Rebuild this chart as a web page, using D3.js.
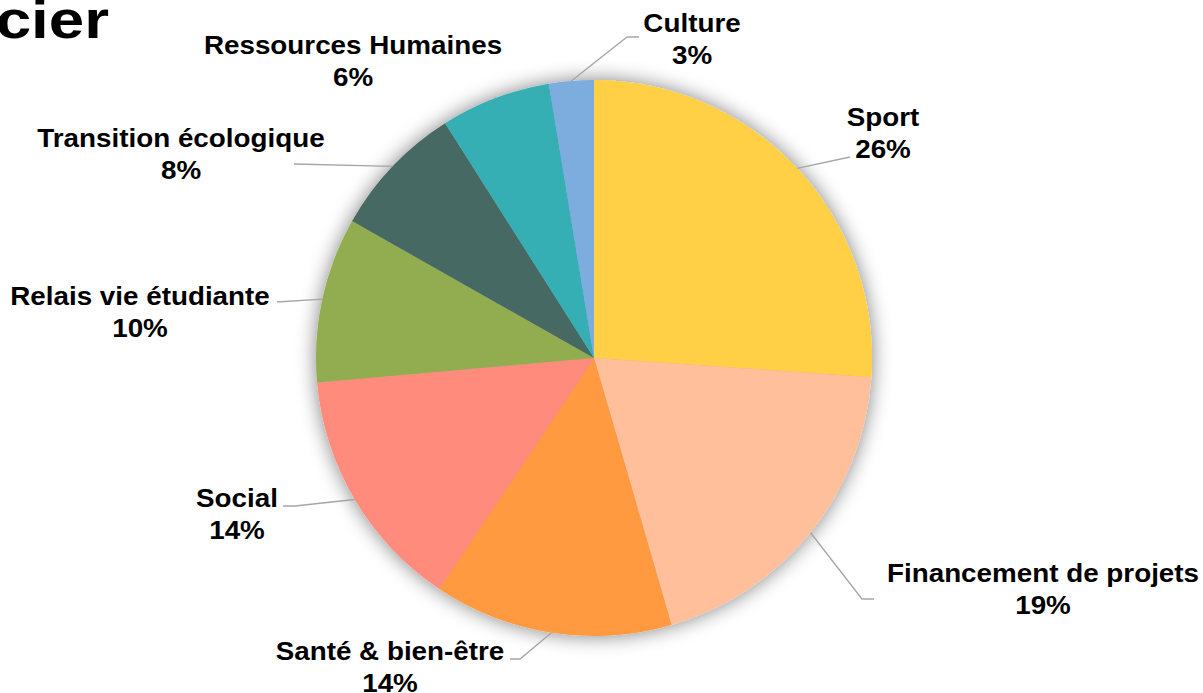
<!DOCTYPE html>
<html>
<head>
<meta charset="utf-8">
<script src="https://cdn.jsdelivr.net/npm/d3@7"></script>
<style>
  body { margin: 0; background: #ffffff; }
  svg { display: block; font-family: "Liberation Sans", Arial, sans-serif; }
</style>
</head>
<body>
<svg width="1203" height="693"></svg>
<script>
const width = 1203;
const height = 693;

// data, clockwise from 12 o'clock
const categories = ["Sport", "Financement de projets", "Santé & bien-être", "Social",
  "Relais vie étudiante", "Transition écologique", "Ressources Humaines", "Culture"];
const shares = [26.1, 19.4, 13.9, 14.2, 9.6, 7.8, 6.4, 2.6];
const colors = ["#FFCF45", "#FFBF9A", "#FF9A40", "#FF8B7B", "#92AD4F", "#476963", "#34AFB4", "#7BADDE"];

// label layout: text centre, elbow point, end of leader line
const labelPos = [
  { x: 883, y: 116, elbow: [850, 157], end: [850, 157] },
  { x: 1043, y: 572, elbow: [862, 599], end: [874, 599] },
  { x: 390, y: 650, elbow: [520, 659], end: [510, 659] },
  { x: 237, y: 497, elbow: [295, 506], end: [283, 506] },
  { x: 140, y: 295, elbow: [277, 302], end: [277, 302] },
  { x: 181, y: 137, elbow: [294, 164], end: [294, 164] },
  { x: 353, y: 44, elbow: [495, 97], end: [495, 97] },
  { x: 692, y: 22, elbow: [627, 37], end: [639, 37] }
];

const cx = 594, cy = 358, radius = 278;

const svg = d3.select("svg");

const defs = svg.append("defs");
const shadow = defs.append("filter")
  .attr("id", "shadow")
  .attr("x", "-20%").attr("y", "-20%")
  .attr("width", "140%").attr("height", "140%");
shadow.append("feGaussianBlur").attr("in", "SourceAlpha").attr("stdDeviation", 10).attr("result", "blur");
shadow.append("feComponentTransfer").attr("in", "blur").attr("result", "soft")
  .append("feFuncA").attr("type", "linear").attr("slope", 0.5);
const merge = shadow.append("feMerge");
merge.append("feMergeNode").attr("in", "soft");
merge.append("feMergeNode").attr("in", "SourceGraphic");

// title fragment (cut off on the left)
svg.append("text")
  .attr("transform", "translate(109,38) scale(1.18,1)")
  .attr("text-anchor", "end")
  .attr("font-size", 54)
  .attr("font-weight", "bold")
  .attr("fill", "#000")
  .text("cier");

const data = categories.map((c, i) => ({ name: c, value: shares[i], color: colors[i], pos: labelPos[i] }));

const pie = d3.pie().sort(null).value(d => d.value);
const arc = d3.arc().innerRadius(0).outerRadius(radius);
const arcs = pie(data);

const g = svg.append("g").attr("transform", `translate(${cx},${cy})`);

g.append("g")
  .attr("filter", "url(#shadow)")
  .selectAll("path")
  .data(arcs)
  .enter()
  .append("path")
  .attr("d", arc)
  .attr("fill", d => d.data.color);

// leader lines
const line = d3.line();
svg.append("g")
  .selectAll("path")
  .data(arcs)
  .enter()
  .append("path")
  .attr("d", d => {
    const a = (d.startAngle + d.endAngle) / 2;
    const start = [cx + radius * Math.sin(a), cy - radius * Math.cos(a)];
    return line([start, d.data.pos.elbow, d.data.pos.end]);
  })
  .attr("fill", "none")
  .attr("stroke", "#A6A6A6")
  .attr("stroke-width", 1.3);

// labels
const labels = svg.append("g")
  .selectAll("text")
  .data(arcs)
  .enter()
  .append("text")
  .attr("transform", d => `translate(${d.data.pos.x},${d.data.pos.y}) scale(1.07,1)`)
  .attr("text-anchor", "middle")
  .attr("font-size", 26)
  .attr("font-weight", "bold")
  .attr("fill", "#000");

labels.append("tspan")
  .attr("x", 0)
  .attr("y", 10)
  .text(d => d.data.name);

labels.append("tspan")
  .attr("x", 0)
  .attr("y", 42)
  .text(d => Math.round(d.data.value) + "%");
</script>
</body>
</html>
